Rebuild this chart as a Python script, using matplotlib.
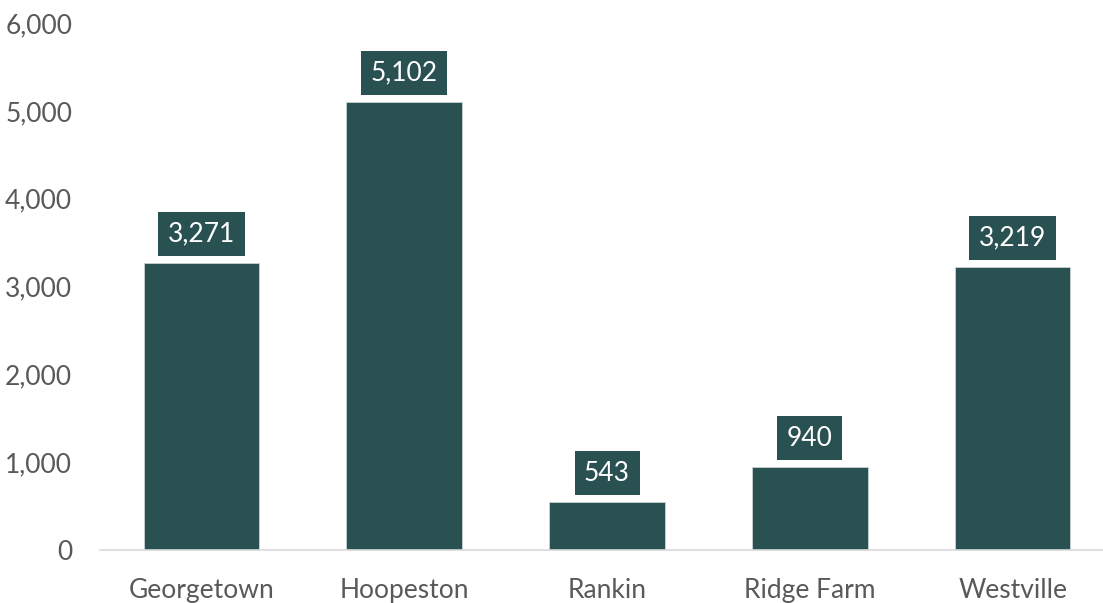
import matplotlib.pyplot as plt
from matplotlib.ticker import FuncFormatter

towns = ['Georgetown', 'Hoopeston', 'Rankin', 'Ridge Farm', 'Westville']
population = [3271, 5102, 543, 940, 3219]

bar_color = '#2A5152'
plt.rcParams['font.family'] = ['Lato', 'DejaVu Sans']

fig = plt.figure(figsize=(11.03, 6.03), dpi=100)
ax = fig.add_axes([100 / 1103, 53 / 603, 1014 / 1103, 527 / 603])

x = range(len(towns))
ax.bar(x, population, width=0.57, color=bar_color, edgecolor='#C9D3D3', linewidth=0.6)

for i, v in enumerate(population):
    ax.annotate(f'{v:,}', (i, v), xytext=(0, 12), textcoords='offset points',
                ha='center', va='bottom', fontsize=19, color='white',
                bbox=dict(boxstyle='square,pad=0.36', fc=bar_color, ec='none'))

ax.set_xlim(-0.5, 4.5)
ax.set_ylim(0, 6000)
ax.set_yticks(range(0, 6001, 1000))
ax.yaxis.set_major_formatter(FuncFormatter(lambda v, p: f'{int(v):,}'))
ax.set_xticks(list(x))
ax.set_xticklabels(towns)
ax.tick_params(axis='both', length=0, labelsize=19, colors='#595959')
ax.tick_params(axis='y', pad=20)
ax.tick_params(axis='x', pad=20)
for s in ['top', 'right', 'left']:
    ax.spines[s].set_visible(False)
ax.spines['bottom'].set_color('#D9D9D9')
ax.spines['bottom'].set_linewidth(1.2)

fig.savefig('out.png', dpi=100)
